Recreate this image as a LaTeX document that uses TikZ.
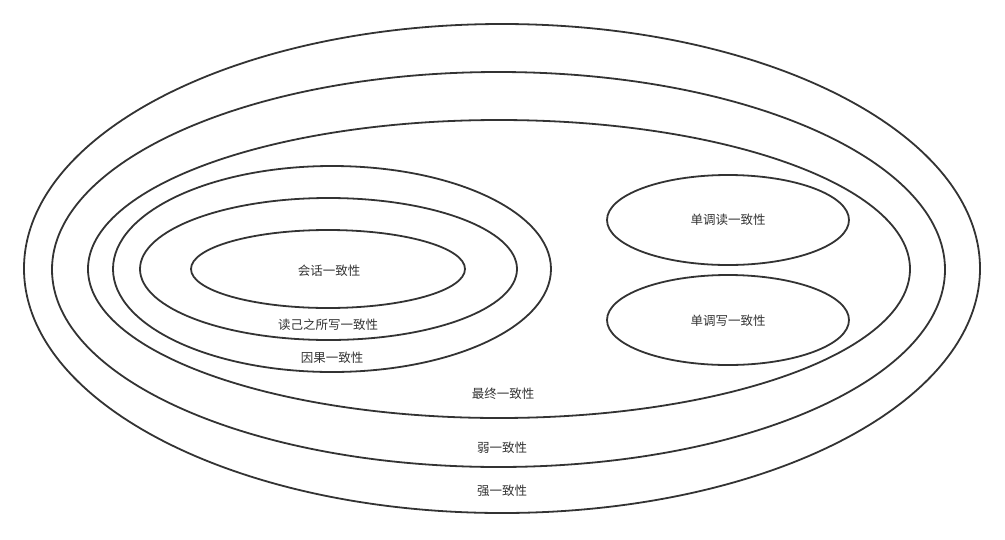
\documentclass[tikz,border=0pt]{standalone}
\usepackage{fontspec}
\setmainfont{Noto Sans CJK SC}
\begin{document}
\begin{tikzpicture}[x=1pt,y=-1pt,
  ring/.style={draw=black!80,line width=1.8pt},
  lbl/.style={font=\fontsize{12.5}{14}\selectfont,text=black!80,inner sep=0pt}]
\useasboundingbox (0,0) rectangle (1005,539);
\draw[ring] (502,268.5) ellipse [x radius=478,y radius=244.5];
\draw[ring] (498.5,269.5) ellipse [x radius=446.5,y radius=197.5];
\draw[ring] (499,269) ellipse [x radius=411,y radius=149];
\draw[ring] (332,269) ellipse [x radius=219,y radius=103];
\draw[ring] (328.5,269) ellipse [x radius=188.5,y radius=71];
\draw[ring] (328,269) ellipse [x radius=137,y radius=39];
\draw[ring] (728,220) ellipse [x radius=121,y radius=45];
\draw[ring] (728,320) ellipse [x radius=121,y radius=45];
\node[lbl] (s) at (329,271) {会话一致性};
\node[lbl] (r) at (328,325) {读己之所写一致性};
\node[lbl] (c) at (332,358) {因果一致性};
\node[lbl] (e) at (503,394) {最终一致性};
\node[lbl] (w) at (502,448) {弱一致性};
\node[lbl] (st) at (502,491) {强一致性};
\node[lbl] (mr) at (728,220) {单调读一致性};
\node[lbl] (mw) at (728,321) {单调写一致性};
\end{tikzpicture}
\end{document}
